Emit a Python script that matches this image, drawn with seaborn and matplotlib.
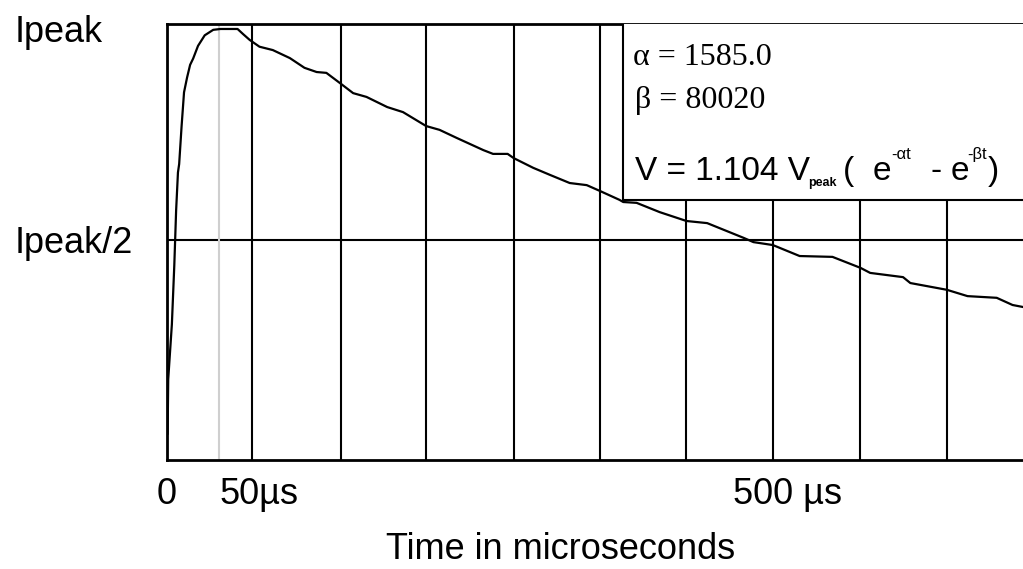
import numpy as np
import pandas as pd
import matplotlib.pyplot as plt
from matplotlib.patches import Rectangle
import seaborn as sns

# current waveform (time in microseconds, current / Ipeak)
time_us = [0.5, 1, 4, 6, 7.5, 9, 10, 12, 14, 16.5, 19, 21.5, 25.5, 31, 38, 44, 58, 62.5,
           68, 76, 87, 101, 113, 123, 131, 143, 153, 164, 181, 194, 213, 224, 238, 260,
           268, 280, 285, 301, 315, 331, 345, 356, 372, 375, 386, 405, 427, 444, 474, 482,
           498, 520, 547, 570, 578, 605, 611, 641, 658, 682, 695, 704]
current = [0.04, 0.17, 0.30, 0.44, 0.57, 0.66, 0.68, 0.77, 0.85, 0.885, 0.915, 0.93, 0.96,
           0.985, 0.998, 1.0, 1.0, 0.988, 0.974, 0.958, 0.95, 0.931, 0.908, 0.898, 0.896,
           0.87, 0.848, 0.839, 0.815, 0.803, 0.77, 0.761, 0.742, 0.713, 0.704, 0.704, 0.694,
           0.671, 0.654, 0.635, 0.63, 0.616, 0.595, 0.59, 0.588, 0.566, 0.545, 0.54, 0.505,
           0.495, 0.488, 0.462, 0.46, 0.434, 0.422, 0.412, 0.398, 0.382, 0.367, 0.363,
           0.346, 0.341]

grid_t = [70, 143, 213, 285, 356, 427, 498, 570, 641]   # vertical rules
half_level = 0.5
peak_marker_t = 43                                     # light grey rule near the peak

ytick_pos = [1.0, 0.5]
ytick_lab = ["Ipeak", "Ipeak/2"]
xtick_pos = [0, 43, 510]
xtick_lab = ["0", "50µs", "500 µs"]

alpha_txt = "α = 1585.0"
beta_txt = "β = 80020"
# formula pieces: (text, x pixel, size, raised?)
formula_parts = [("V = 1.104 V", 635, 24, "base"),
                 ("peak", 808, 9, "sub"),
                 ("(", 843, 24, "base"),
                 ("e", 873, 24, "base"),
                 ("-αt", 891, 12, "sup"),
                 ("-", 930, 24, "base"),
                 ("e", 951, 24, "base"),
                 ("-βt", 967, 12, "sup"),
                 (")", 988, 24, "base")]

df = pd.DataFrame({"t": time_us, "i": current})

sns.set_style("white")
plt.rcParams["font.family"] = ["Liberation Sans", "DejaVu Sans"]
plt.rcParams["text.color"] = "black"
plt.rcParams["axes.labelcolor"] = "black"
plt.rcParams["xtick.color"] = "black"
plt.rcParams["ytick.color"] = "black"

W, H = 1023, 569
fig = plt.figure(figsize=(W / 100, H / 100), dpi=100)
# axes box in pixels: left 167, top 24, bottom 460, right runs off the image
ax = fig.add_axes([167 / W, (H - 460) / H, (1030 - 167) / W, (460 - 24) / H])

px_per_us = 1.2166
ax.set_xlim(0, (1030 - 167) / px_per_us)
ax.set_ylim(-0.0213, 1.0118)


def px_to_t(px):
    return (px - 167) / px_per_us


def py_to_v(py):
    return 0.5 + (240 - py) / 422


for t in grid_t:
    ax.axvline(t, color="black", lw=1.5, zorder=1)
ax.axhline(half_level, color="black", lw=1.5, zorder=1)
ax.axvline(peak_marker_t, color="#cfcfcf", lw=1.5, zorder=1)

sns.lineplot(data=df, x="t", y="i", ax=ax, color="black", lw=1.6, zorder=2)

# parameter box in the upper right corner
box_x0 = px_to_t(623)
box_y0 = py_to_v(200)
ax.add_patch(Rectangle((box_x0, box_y0), 500, 1.2 - box_y0, facecolor="white",
                       edgecolor="black", lw=1.5, zorder=3))
ax.text(px_to_t(633), py_to_v(65), alpha_txt, family="Liberation Serif", fontsize=23,
        va="baseline", zorder=4)
ax.text(px_to_t(635), py_to_v(108), beta_txt, family="Liberation Serif", fontsize=23,
        va="baseline", zorder=4)
baselines = {"base": 180, "sub": 186, "sup": 159}
for txt, xp, size, kind in formula_parts:
    ax.text(px_to_t(xp), py_to_v(baselines[kind]), txt, fontsize=size, va="baseline",
            weight="bold" if kind == "sub" else "normal", zorder=4)

for side in ["left", "bottom", "top"]:
    ax.spines[side].set_color("black")
    ax.spines[side].set_linewidth(2)
ax.spines["right"].set_visible(False)

ax.set_yticks(ytick_pos)
ax.set_yticklabels(ytick_lab, fontsize=26, ha="left")
ax.tick_params(axis="y", length=0, pad=152 * 0.72)

ax.set_xticks(xtick_pos)
ax.set_xticklabels(xtick_lab, fontsize=26)
ax.tick_params(axis="x", length=0, pad=12)
ax.get_xticklabels()[1].set_ha("left")

ax.set_xlabel("Time in microseconds", fontsize=26)
ax.set_ylabel("")
ax.xaxis.set_label_coords((561 - 167) / 863, (460 - 532) / 436)

fig.savefig("out.png", dpi=100)
